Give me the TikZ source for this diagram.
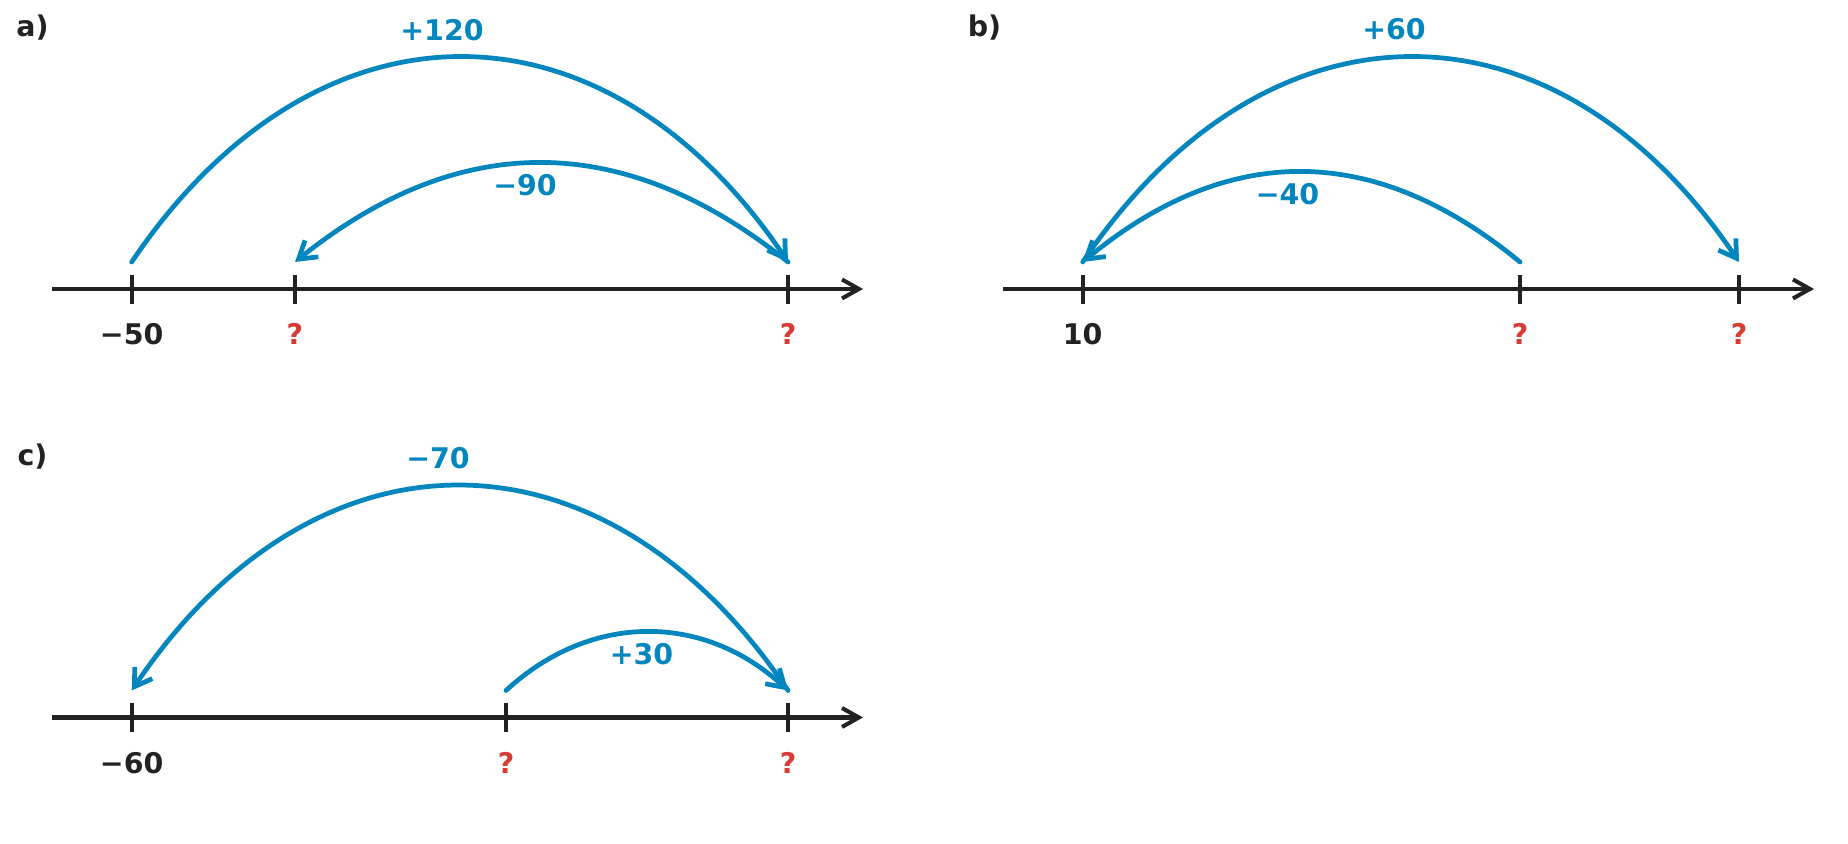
\documentclass[tikz,border=0pt]{standalone}
\usepackage{fontspec}
\setmainfont{DejaVu Sans}
\usetikzlibrary{arrows.meta}

\definecolor{jumpblue}{HTML}{0386BE}
\definecolor{askred}{HTML}{D83A34}
\definecolor{linegray}{HTML}{222222}

\tikzset{
	numberline/.style = {linegray, line width = 1.15pt, -{Straight Barb[length = 4.8pt, width = 5.4pt]}},
	tick/.style = {linegray, line width = 1.15pt},
	jump/.style = {jumpblue, line width = 1.35pt, line cap = round, -{Straight Barb[length = 4.8pt, width = 6pt]}},
	textlabel/.style = {font = \fontsize{8.1}{9.5}\selectfont\bfseries, anchor = base, inner sep = 0pt},
	numlabel/.style = {textlabel, linegray},
	asklabel/.style = {textlabel, askred},
	jumplabel/.style = {textlabel, jumpblue},
	partlabel/.style = {textlabel, linegray}
}

\begin{document}
\begin{tikzpicture}

\useasboundingbox (0, 0) rectangle (18.48, 8.44);

% a)

\begin{scope}[shift = {(0, 5.55)}]

	% Number line

	\coordinate (a left) at (0.52, 0);
	\coordinate (a right) at (8.63, 0);
	\draw [numberline] (a left) -- (a right);

	% Ticks

	\foreach \x/\name in {1.317/a0, 2.95/a1, 7.88/a2}{
		\draw [tick] (\x, -0.15) -- (\x, 0.14);
		\coordinate (\name) at (\x, 0.27);
	}

	% Values

	\node [numlabel] (a0 label) at (1.317, -0.56) {−50};
	\node [asklabel] (a1 label) at (2.95, -0.56) {?};
	\node [asklabel] (a2 label) at (7.88, -0.56) {?};

	% Jumps

	\draw [jump] (a0) .. controls (3.155, 3.0) and (6.042, 3.0) .. (a2);
	\draw [jump] (a2) .. controls (6.237, 1.59) and (4.593, 1.59) .. (a1);

	\node [jumplabel] (a up) at (4.42, 2.48) {+120};
	\node [jumplabel] (a down) at (5.25, 0.93) {−90};

	% Label

	\node [partlabel] (a name) at (0.325, 2.52) {a)};

\end{scope}

% b)

\begin{scope}[shift = {(9.51, 5.55)}]

	% Number line

	\coordinate (b left) at (0.52, 0);
	\coordinate (b right) at (8.63, 0);
	\draw [numberline] (b left) -- (b right);

	% Ticks

	\foreach \x/\name in {1.317/b0, 5.69/b1, 7.88/b2}{
		\draw [tick] (\x, -0.15) -- (\x, 0.14);
		\coordinate (\name) at (\x, 0.27);
	}

	% Values

	\node [numlabel] (b0 label) at (1.317, -0.56) {10};
	\node [asklabel] (b1 label) at (5.69, -0.56) {?};
	\node [asklabel] (b2 label) at (7.88, -0.56) {?};

	% Jumps

	\draw [jump] (b0) .. controls (3.155, 3.0) and (6.042, 3.0) .. (b2);
	\draw [jump] (b1) .. controls (4.232, 1.47) and (2.775, 1.47) .. (b0);

	\node [jumplabel] (b up) at (4.43, 2.49) {+60};
	\node [jumplabel] (b down) at (3.365, 0.84) {−40};

	% Label

	\node [partlabel] (b name) at (0.335, 2.52) {b)};

\end{scope}

% c)

\begin{scope}[shift = {(0, 1.265)}]

	% Number line

	\coordinate (c left) at (0.52, 0);
	\coordinate (c right) at (8.63, 0);
	\draw [numberline] (c left) -- (c right);

	% Ticks

	\foreach \x/\name in {1.317/c0, 5.06/c1, 7.88/c2}{
		\draw [tick] (\x, -0.15) -- (\x, 0.14);
		\coordinate (\name) at (\x, 0.27);
	}

	% Values

	\node [numlabel] (c0 label) at (1.317, -0.56) {−60};
	\node [asklabel] (c1 label) at (5.06, -0.56) {?};
	\node [asklabel] (c2 label) at (7.88, -0.56) {?};

	% Jumps

	\draw [jump] (c2) .. controls (6.042, 3.0) and (3.155, 3.0) .. (c0);
	\draw [jump] (c1) .. controls (5.906, 1.05) and (7.034, 1.05) .. (c2);

	\node [jumplabel] (c down) at (4.38, 2.485) {−70};
	\node [jumplabel] (c up) at (6.415, 0.525) {+30};

	% Label

	\node [partlabel] (c name) at (0.325, 2.52) {c)};

\end{scope}

\end{tikzpicture}
\end{document}
